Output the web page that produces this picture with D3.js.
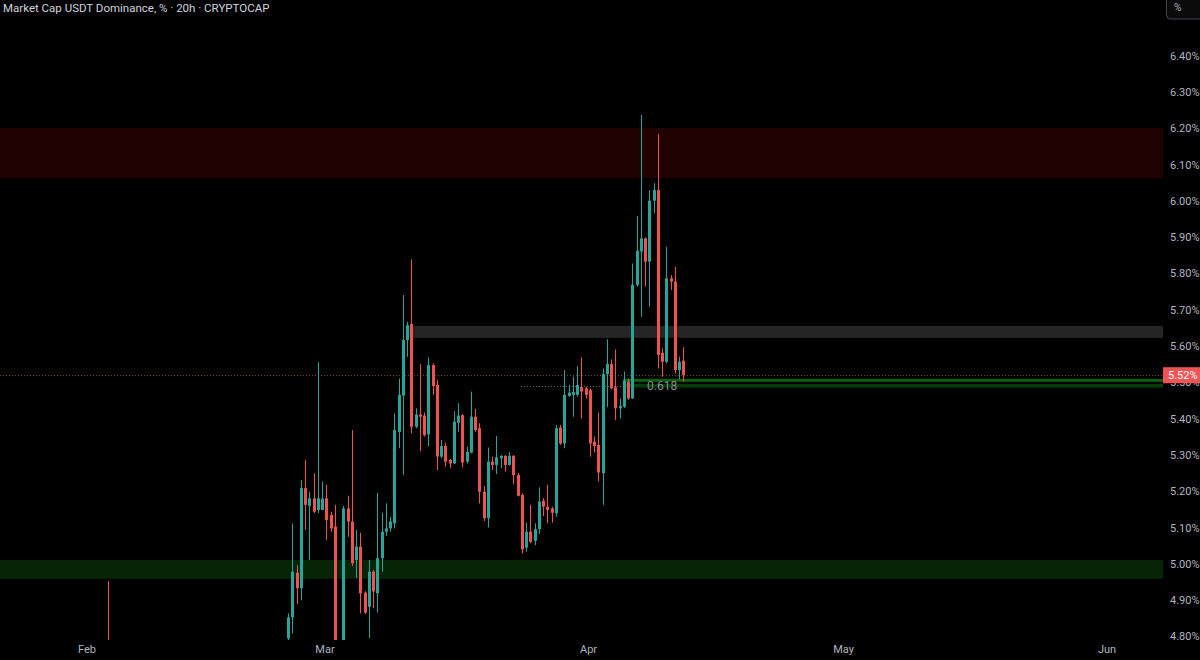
<!DOCTYPE html>
<html lang="en">
<head>
<meta charset="utf-8">
<title>Market Cap USDT Dominance</title>
<style>
  html, body { margin: 0; padding: 0; background: #000; }
  svg { display: block; }
  text { font-family: Roboto, "Liberation Sans", sans-serif; }
</style>
</head>
<body>
<svg width="1200" height="660"></svg>
<script src="https://d3js.org/d3.v7.min.js"></script>
<script>
// bars are 12h apart, first one below
var firstBar = new Date(2025, 1, 24, 16);
var barHours = 12;

var opens = [4.795,4.853,4.976,4.933,5.209,5.160,5.181,5.149,5.149,5.181,
  5.135,5.103,4.770,4.760,5.153,5.117,5.011,5.048,4.921,4.882,
  4.979,4.919,5.016,5.089,5.098,5.112,5.364,5.464,5.617,5.661,
  5.378,5.412,5.409,5.357,5.548,5.493,5.296,5.325,5.287,5.277,
  5.389,5.410,5.282,5.307,5.406,5.374,5.199,5.126,5.282,5.273,
  5.291,5.298,5.273,5.298,5.245,5.190,5.045,5.089,5.064,5.096,
  5.174,5.158,5.153,5.140,5.376,5.332,5.463,5.466,5.466,5.488,
  5.484,5.479,5.337,5.328,5.250,5.523,5.551,5.487,5.429,5.433,
  5.502,5.456,5.769,5.861,5.897,5.833,6.001,6.030,5.582,5.557,
  5.787,5.778,5.534,5.560];
var highs = [4.864,5.112,4.997,5.231,5.287,5.199,5.250,5.556,5.227,5.218,
  5.144,5.163,4.785,5.160,5.188,5.369,5.094,5.086,4.925,5.011,
  4.983,5.196,5.141,5.167,5.130,5.415,5.511,5.741,5.667,5.839,
  5.429,5.551,5.417,5.569,5.553,5.507,5.342,5.334,5.289,5.421,
  5.443,5.413,5.323,5.475,5.427,5.388,5.215,5.321,5.296,5.353,
  5.300,5.300,5.308,5.300,5.251,5.195,5.114,5.163,5.112,5.211,
  5.181,5.218,5.158,5.383,5.383,5.534,5.493,5.516,5.545,5.569,
  5.488,5.484,5.351,5.417,5.539,5.619,5.564,5.591,5.456,5.530,
  5.511,5.828,5.959,6.237,5.900,6.030,6.049,6.185,5.594,5.874,
  5.796,5.819,5.571,5.597];
var lows = [4.780,4.809,4.890,4.900,5.094,5.011,5.140,5.140,5.149,5.066,
  5.089,4.760,4.740,4.750,5.075,4.995,4.961,4.864,4.862,4.796,
  4.878,4.866,4.979,5.077,5.089,5.098,5.319,5.245,5.571,5.360,
  5.374,5.311,5.351,5.325,5.466,5.259,5.291,5.268,5.264,5.275,
  5.364,5.266,5.277,5.305,5.364,5.167,5.118,5.101,5.259,5.248,
  5.264,5.254,5.271,5.220,5.186,5.029,5.034,5.057,5.052,5.083,
  5.132,5.112,5.114,5.130,5.328,5.319,5.461,5.406,5.461,5.401,
  5.456,5.296,5.307,5.227,5.163,5.432,5.481,5.397,5.401,5.430,
  5.452,5.455,5.764,5.681,5.764,5.709,5.966,5.539,5.516,5.553,
  5.755,5.525,5.509,5.502];
var closes = [4.853,4.979,4.933,5.209,5.163,5.181,5.144,5.181,5.180,5.121,
  5.098,4.780,4.760,5.153,5.117,5.002,5.048,4.919,4.866,4.979,
  4.924,5.016,5.089,5.098,5.117,5.369,5.466,5.617,5.658,5.378,
  5.412,5.406,5.355,5.548,5.490,5.296,5.325,5.282,5.277,5.392,
  5.409,5.280,5.309,5.406,5.369,5.199,5.126,5.282,5.273,5.294,
  5.298,5.273,5.298,5.245,5.188,5.040,5.089,5.061,5.096,5.172,
  5.158,5.149,5.141,5.374,5.332,5.466,5.472,5.474,5.493,5.475,
  5.466,5.332,5.325,5.252,5.523,5.551,5.484,5.429,5.435,5.505,
  5.456,5.769,5.863,5.897,5.833,6.001,6.030,5.576,5.557,5.787,
  5.778,5.534,5.557,5.521];

// lone bar early in Feb, body sits under the visible range
var febTime = new Date(2025, 1, 3, 12);
var febOHLC = [4.780, 4.953, 4.700, 4.760];

var yTicks = [4.8,4.9,5.0,5.1,5.2,5.3,5.4,5.5,5.6,5.7,5.8,5.9,6.0,6.1,6.2,6.3,6.4];
var monthTicks = [new Date(2025,1,1), new Date(2025,2,1), new Date(2025,3,1), new Date(2025,4,1), new Date(2025,5,1)];

// drawn zones
var redZone = [6.063, 6.201];
var greyZone = [5.623, 5.656];
var greyZoneFrom = new Date(2025, 2, 10, 21);
var greenZone = [4.959, 5.011];
var fibLineUpper = [5.502, 5.510];
var fibLineLower = [5.486, 5.496];
var fibFrom = new Date(2025, 3, 5, 1);
var fibLevel = 5.490;
var fibDotsFrom = new Date(2025, 2, 24, 1);
var fibLabel = '0.618';
var lastPrice = 5.52;

var svg = d3.select('svg'),
  width = +svg.attr('width'),
  height = +svg.attr('height'),
  plotRight = 1163,
  plotBottom = 640;

var up = '#26a69a', down = '#ef5350';

var x = d3.scaleTime()
  .domain([new Date(2025,2,1), new Date(2025,5,1)])
  .range([325, 1107]);
var y = d3.scaleLinear().domain([4.8, 6.4]).range([636.6, 55.8]);

var bars = opens.map(function(o, i) {
  return { t: d3.timeHour.offset(firstBar, i * barHours), o: o, h: highs[i], l: lows[i], c: closes[i] };
});
bars.unshift({ t: febTime, o: febOHLC[0], h: febOHLC[1], l: febOHLC[2], c: febOHLC[3] });

svg.append('rect').attr('width', width).attr('height', height).attr('fill', '#000');

svg.append('clipPath').attr('id', 'plot')
  .append('rect').attr('width', plotRight).attr('height', plotBottom);
svg.append('clipPath').attr('id', 'axis')
  .append('rect').attr('x', plotRight).attr('width', width - plotRight).attr('height', plotBottom);

var plot = svg.append('g').attr('clip-path', 'url(#plot)');

function band(v, x0, fill) {
  plot.append('rect')
    .attr('x', x0)
    .attr('y', y(v[1]))
    .attr('width', plotRight - x0)
    .attr('height', y(v[0]) - y(v[1]))
    .attr('fill', fill);
}
band(redZone, 0, '#210202');
band(greyZone, x(greyZoneFrom), '#252525');
band(greenZone, 0, '#062406');
band(fibLineUpper, x(fibFrom), '#0b650e');
band(fibLineLower, x(fibFrom), '#083c0a');

// price line and fib level line
plot.append('line')
  .attr('x1', 0).attr('x2', plotRight)
  .attr('y1', Math.round(y(lastPrice)) + 0.5).attr('y2', Math.round(y(lastPrice)) + 0.5)
  .attr('stroke', '#7d3b3b').attr('stroke-dasharray', '1,2');
plot.append('line')
  .attr('x1', x(fibDotsFrom)).attr('x2', x(fibFrom))
  .attr('y1', Math.round(y(fibLevel)) + 0.5).attr('y2', Math.round(y(fibLevel)) + 0.5)
  .attr('stroke', '#6a6d78').attr('stroke-dasharray', '1,2');

var candle = plot.append('g').selectAll('g')
  .data(bars)
  .enter()
  .append('g')
  .attr('fill', function(d) { return d.c >= d.o ? up : down; });

candle.append('rect')
  .attr('x', function(d) { return Math.round(x(d.t)); })
  .attr('y', function(d) { return y(d.h); })
  .attr('width', 1)
  .attr('height', function(d) { return y(d.l) - y(d.h); });

candle.append('rect')
  .attr('x', function(d) { return Math.round(x(d.t)) - 1; })
  .attr('y', function(d) { return y(Math.max(d.o, d.c)); })
  .attr('width', 3)
  .attr('height', function(d) { return Math.max(1, Math.abs(y(d.o) - y(d.c))); });

plot.append('text')
  .attr('x', 647).attr('y', y(fibLevel))
  .attr('dy', '0.35em')
  .attr('fill', '#8a8d96')
  .attr('font-size', 12)
  .text(fibLabel);

// right price axis
var axisG = svg.append('g').attr('clip-path', 'url(#axis)');
axisG.selectAll('text')
  .data(yTicks)
  .enter()
  .append('text')
  .attr('x', 1170)
  .attr('y', function(d) { return y(d); })
  .attr('dy', '0.35em')
  .attr('fill', '#b2b5be')
  .attr('font-size', 11)
  .text(function(d) { return d3.format('.2f')(d) + '%'; });

axisG.append('rect')
  .attr('x', plotRight).attr('y', y(lastPrice) - 8)
  .attr('width', width - plotRight).attr('height', 16)
  .attr('fill', '#f05454');
axisG.append('text')
  .attr('x', 1168).attr('y', y(lastPrice))
  .attr('dy', '0.35em')
  .attr('fill', '#fff')
  .attr('font-size', 11)
  .text(d3.format('.2f')(lastPrice) + '%');

// time axis
svg.append('g').selectAll('text')
  .data(monthTicks)
  .enter()
  .append('text')
  .attr('x', function(d) { return x(d); })
  .attr('y', 653)
  .attr('text-anchor', 'middle')
  .attr('fill', '#b2b5be')
  .attr('font-size', 11)
  .text(d3.timeFormat('%b'));

svg.append('text')
  .attr('x', 3).attr('y', 12)
  .attr('fill', '#d1d4dc')
  .attr('font-size', 11.5)
  .text('Market Cap USDT Dominance, % · 20h · CRYPTOCAP');

svg.append('rect')
  .attr('x', 1166.5).attr('y', -4)
  .attr('width', 40).attr('height', 23).attr('rx', 4)
  .attr('fill', '#0b0b0b').attr('stroke', '#434651');
svg.append('text')
  .attr('x', 1174).attr('y', 11)
  .attr('fill', '#b2b5be')
  .attr('font-size', 10)
  .text('%');
</script>
</body>
</html>
